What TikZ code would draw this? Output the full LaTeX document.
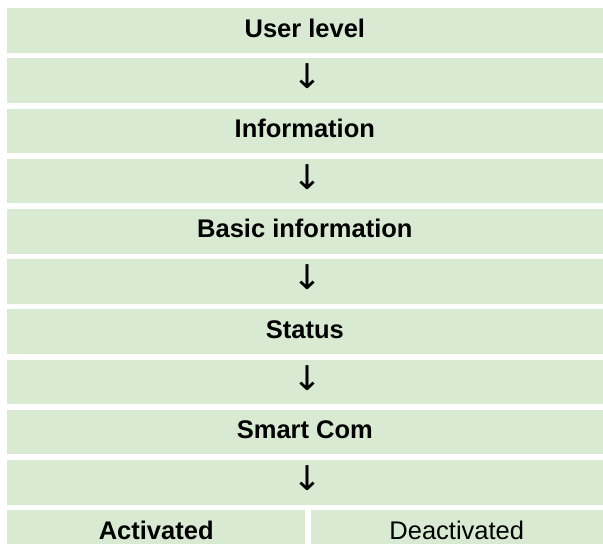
\documentclass[tikz,border=0pt]{standalone}
\usepackage{fontspec}
\setmainfont{Liberation Sans}
\newfontfamily\arrowfont{DejaVu Sans}
\usepackage{tikz}
\usetikzlibrary{positioning}
\definecolor{cellgreen}{HTML}{D9EAD3}

% down arrow glyph, stretched to the height of a line
\newcommand{\downstep}{\hspace*{5pt}\raisebox{-1.9pt}{\resizebox{30pt}{25pt}{\arrowfont\raisebox{\depth}{↓}}}}

\begin{document}
\begin{tikzpicture}[
    x=1pt, y=-1pt,
    node distance=5.3pt and 5pt,
    cell/.style={rectangle, fill=cellgreen, inner sep=0pt, minimum width=595.3pt, text height=28.8pt, text depth=15.7pt, align=center, font=\fontsize{25.5}{30}\selectfont},
    title/.style={cell, font=\fontsize{25.5}{30}\selectfont\bfseries},
    step arrow/.style={cell}
]
\useasboundingbox (0,0) rectangle (603,544);

% User level
\node[title, anchor=north west] (userlevel) at (7,8) {User level};
\node[step arrow, below=of userlevel] (arrow1) {\downstep};

% Information
\node[title, below=of arrow1] (information) {Information};
\node[step arrow, below=of information] (arrow2) {\downstep};

% Basic information
\node[title, below=of arrow2] (basicinfo) {Basic information};
\node[step arrow, below=of basicinfo] (arrow3) {\downstep};

% Status
\node[title, below=of arrow3] (status) {Status};
\node[step arrow, below=of status] (arrow4) {\downstep};

% Smart Com
\node[title, below=of arrow4] (smartcom) {Smart Com};
\node[step arrow, below=of smartcom] (arrow5) {\downstep};

% Two settings side by side
\node[title, minimum width=298pt, below=of arrow5.south west, anchor=north west] (activated) {Activated};
\node[cell, minimum width=292.3pt, right=of activated] (deactivated) {Deactivated};

\end{tikzpicture}
\end{document}
